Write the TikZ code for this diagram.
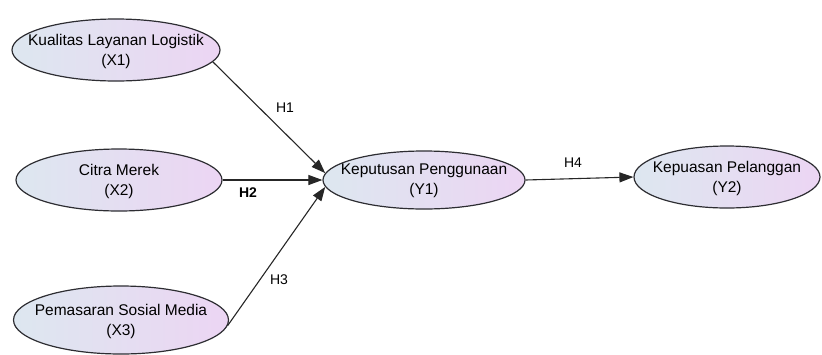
\documentclass[tikz,border=0pt]{standalone}
\usepackage{fontspec}
\setmainfont{Liberation Sans}
\usetikzlibrary{shapes.geometric,arrows.meta}
\definecolor{lvleft}{RGB}{221,231,240}
\definecolor{lvright}{RGB}{236,213,243}
\definecolor{lvedge}{RGB}{45,45,50}
\tikzset{
  latent/.style={ellipse, draw=lvedge, line width=1.2pt, inner sep=0pt,
    left color=lvleft, right color=lvright},
  lvtext/.style={align=center, inner sep=0pt, yshift=-1pt,
    font=\fontsize{15.5}{20}\selectfont},
  path/.style={draw=black!85, line width=1.1pt,
    -{Triangle[length=14pt,width=10pt]}},
  hlabel/.style={font=\fontsize{14}{16}\selectfont}
}
\begin{document}
\begin{tikzpicture}[x=1pt,y=-1pt]
\useasboundingbox (0,0) rectangle (822,354);

% latent variables (fixed ellipse size, caption laid over the centre)
\node[latent, minimum width=208pt, minimum height=62pt,
  label={[lvtext]center:Kualitas Layanan Logistik\\(X1)}] (x1) at (116,50) {};
\node[latent, minimum width=206pt, minimum height=62pt,
  label={[lvtext]center:Citra Merek\\(X2)}] (x2) at (119,180) {};
\node[latent, minimum width=215pt, minimum height=68pt,
  label={[lvtext]center:Pemasaran Sosial Media\\(X3)}] (x3) at (121,320) {};
\node[latent, minimum width=202pt, minimum height=58pt,
  label={[lvtext]center:Keputusan Penggunaan\\(Y1)}] (y1) at (424,180) {};
\node[latent, minimum width=186pt, minimum height=62pt,
  label={[lvtext]center:Kepuasan Pelanggan\\(Y2)}] (y2) at (727,177) {};

% structural paths
\draw[path] (x1.-7) -- (y1.176);
\draw[path] (x2.east) -- (y1.west);
\draw[path] (x3.-3) -- (y1.184);
\draw[path] (y1.east) -- (y2.west);

% hypothesis labels
\node[hlabel] (h1) at (285,108) {H1};
\node[hlabel] (h2) at (248,193) {\textbf{H2}};
\node[hlabel] (h3) at (279,280) {H3};
\node[hlabel] (h4) at (573,163) {H4};
\end{tikzpicture}
\end{document}
